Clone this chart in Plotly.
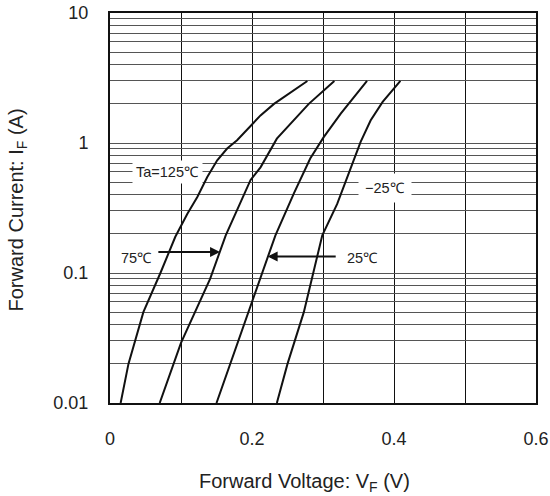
import math
import plotly.graph_objects as go

# ---- data ----
vf_125 = [0.015, 0.026, 0.047, 0.071, 0.092, 0.109, 0.123, 0.137, 0.151, 0.165, 0.179, 0.198, 0.212, 0.231, 0.278]
if_125 = [0.01, 0.02, 0.05, 0.1, 0.19, 0.286, 0.384, 0.548, 0.736, 0.906, 1.05, 1.36, 1.63, 2.0, 3.0]

vf_75 = [0.070, 0.100, 0.141, 0.163, 0.198, 0.212, 0.235, 0.259, 0.280, 0.316]
if_75 = [0.01, 0.029, 0.09, 0.195, 0.52, 0.65, 1.08, 1.49, 2.0, 3.0]

vf_25 = [0.150, 0.198, 0.212, 0.233, 0.259, 0.282, 0.301, 0.325, 0.362]
if_25 = [0.01, 0.055, 0.09, 0.195, 0.41, 0.76, 1.11, 1.68, 3.0]

vf_m25 = [0.235, 0.250, 0.273, 0.299, 0.320, 0.339, 0.353, 0.367, 0.384, 0.409]
if_m25 = [0.01, 0.02, 0.05, 0.195, 0.34, 0.65, 1.02, 1.49, 2.07, 3.0]

x_ticks = [0, 0.1, 0.2, 0.3, 0.4, 0.5, 0.6]
x_ticklabels = ["0", "", "0.2", "", "0.4", "", "0.6"]
y_decades = [0.01, 0.1, 1, 10]
y_decade_labels = ["0.01", "0.1", "1", "10"]

FONT = "Liberation Sans, Arial, sans-serif"
TXT = "#222222"

fig = go.Figure()
for xs, ys in [(vf_125, if_125), (vf_75, if_75), (vf_25, if_25), (vf_m25, if_m25)]:
    fig.add_trace(go.Scatter(x=xs, y=ys, mode="lines",
                             line=dict(color="#111111", width=2),
                             showlegend=False, hoverinfo="skip"))

# y gridlines at every 1..9 x decade
y_tickvals = []
y_ticktext = []
for i, d in enumerate(y_decades):
    for m in range(1, 10):
        v = d * m
        if v > 10.0001:
            break
        y_tickvals.append(v)
        y_ticktext.append(y_decade_labels[i] if m == 1 else "")

fig.update_xaxes(range=[0, 0.6], tickvals=x_ticks, ticktext=x_ticklabels,
                 showgrid=True, gridcolor="#111111", gridwidth=1,
                 showline=True, linecolor="#111111", linewidth=2, mirror=True,
                 ticks="", ticklabelstandoff=18, zeroline=False, automargin=False,
                 tickfont=dict(family=FONT, size=18, color=TXT))
fig.update_yaxes(type="log", range=[-2, 1], tickvals=y_tickvals, ticktext=y_ticktext,
                 showgrid=True, gridcolor="#555555", gridwidth=1,
                 showline=True, linecolor="#111111", linewidth=2, mirror=True,
                 ticks="", ticklabelstandoff=16, zeroline=False, automargin=False,
                 tickfont=dict(family=FONT, size=18, color=TXT))

lab_font = dict(family=FONT, size=14.5, color=TXT)
# labels
fig.add_annotation(x=0.0803, y=math.log10(0.598), xref="x", yref="y", text="Ta=125℃",
                   showarrow=False, bgcolor="white", borderpad=3, font=lab_font)
fig.add_annotation(x=0.388, y=math.log10(0.454), xref="x", yref="y", text="−25℃",
                   showarrow=False, bgcolor="white", borderpad=6, font=lab_font)
fig.add_annotation(x=0.038, y=math.log10(0.130), xref="x", yref="y", text="75℃",
                   showarrow=False, font=lab_font)
fig.add_annotation(x=0.355, y=math.log10(0.130), xref="x", yref="y", text="25℃",
                   showarrow=False, font=lab_font)
# arrows
fig.add_annotation(x=0.155, y=math.log10(0.145), ax=0.066, ay=math.log10(0.145),
                   xref="x", yref="y", axref="x", ayref="y", text="",
                   showarrow=True, arrowhead=2, arrowsize=1, arrowwidth=2, arrowcolor="#111111")
fig.add_annotation(x=0.222, y=math.log10(0.134), ax=0.320, ay=math.log10(0.134),
                   xref="x", yref="y", axref="x", ayref="y", text="",
                   showarrow=True, arrowhead=2, arrowsize=1, arrowwidth=2, arrowcolor="#111111")

# axis titles
fig.add_annotation(x=0.4554, y=-0.205, xref="paper", yref="paper",
                   xanchor="center", yanchor="middle",
                   text="Forward Voltage: V<sub>F</sub> (V)", showarrow=False,
                   font=dict(family=FONT, size=20, color=TXT))
fig.add_annotation(x=-0.218, y=0.494, xref="paper", yref="paper", textangle=-90,
                   xanchor="center", yanchor="middle",
                   text="Forward Current: I<sub>F</sub> (A)", showarrow=False,
                   font=dict(family=FONT, size=20, color=TXT))

fig.update_layout(width=550, height=496,
                  margin=dict(l=110, r=14, t=13, b=93, autoexpand=False),
                  paper_bgcolor="white", plot_bgcolor="white",
                  font=dict(family=FONT, color=TXT))
# remove the default page margin so the 550x496 figure fills the window exactly
fig.write_html("out.html", config={"displayModeBar": False, "staticPlot": True},
               post_script="document.body.style.margin='0';document.body.style.overflow='hidden';")
